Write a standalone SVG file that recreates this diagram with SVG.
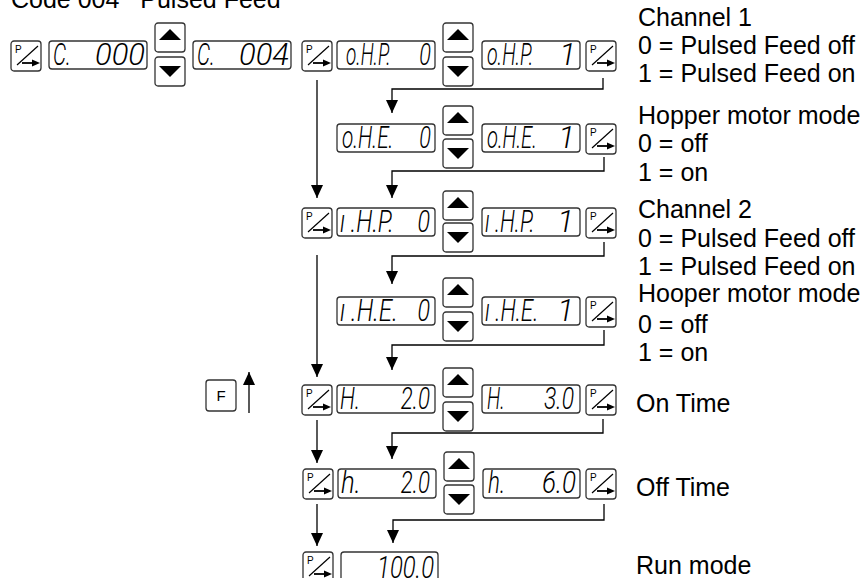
<svg xmlns="http://www.w3.org/2000/svg" width="860" height="578" viewBox="0 0 860 578">
<style>
.box{fill:#fff;stroke:#333;stroke-width:1.3}
.seg{font-family:Roboto,"DejaVu Sans",sans-serif;font-weight:300;font-style:italic;font-size:31px;fill:#000}
.end{text-anchor:end}
.lbl{font-family:"Liberation Sans",Arial,sans-serif;font-size:25px;fill:#000}
.conn{fill:none;stroke:#000;stroke-width:1.3}
</style>
<defs>
<marker id="ah" markerUnits="userSpaceOnUse" markerWidth="13" markerHeight="12" refX="13" refY="6" orient="auto" viewBox="0 0 13 12"><path d="M0,0 L13,6 L0,12 z" fill="#000"/></marker>
<g id="pbtn"><rect class="box" x="0" y="0" width="30" height="30" rx="3"/><text x="4" y="12" font-family="Liberation Sans,sans-serif" font-size="10">P</text><line x1="6" y1="24" x2="27" y2="5" stroke="#000" stroke-width="1.2"/><line x1="11" y1="22" x2="23" y2="22" stroke="#000" stroke-width="1.8"/><path d="M21,18.5 L29,22 L21,25.5 z"/></g>
<g id="upbtn"><rect class="box" x="0" y="0" width="30" height="29" rx="3"/><path d="M4,17 L26,17 L15,6 z"/></g>
<g id="dnbtn"><rect class="box" x="0" y="0" width="30" height="29" rx="3"/><path d="M4,9 L26,9 L15,20 z"/></g>
</defs>

<text class="lbl" x="11" y="8" xml:space="preserve">Code 004   Pulsed Feed</text>

<g id="connectors">
<path class="conn" d="M317,80 V198" marker-end="url(#ah)"/>
<path class="conn" d="M317,255 V377" marker-end="url(#ah)"/>
<path class="conn" d="M317,420 V463" marker-end="url(#ah)"/>
<path class="conn" d="M317,504 V546" marker-end="url(#ah)"/>
<path class="conn" d="M603,78 V89 H392 V113" marker-end="url(#ah)"/>
<path class="conn" d="M604,157 V171 H392 V198" marker-end="url(#ah)"/>
<path class="conn" d="M604,242 V256 H392 V284" marker-end="url(#ah)"/>
<path class="conn" d="M604,330 V345 H392 V370" marker-end="url(#ah)"/>
<path class="conn" d="M603,419 V433 H392 V459" marker-end="url(#ah)"/>
<path class="conn" d="M604,504 V520 H393 V543" marker-end="url(#ah)"/>
<path class="conn" d="M249,413 V372" marker-end="url(#ah)"/>
</g>

<g id="row1">
<use href="#pbtn" x="11" y="41"/>
<g id="disp-c000"><rect class="box" x="49" y="41" width="98" height="28" rx="3"/><text class="seg" transform="translate(53,65) scale(0.67,1)">C.</text><text class="seg end" x="145" y="65">000</text></g>
<use href="#upbtn" x="155" y="23"/><use href="#dnbtn" x="155" y="57"/>
<g id="disp-c004"><rect class="box" x="193" y="41" width="98" height="28" rx="3"/><text class="seg" transform="translate(197,65) scale(0.67,1)">C.</text><text class="seg end" x="289" y="65">004</text></g>
<use href="#pbtn" x="302" y="41"/>
<g id="disp-ohp0"><rect class="box" x="337" y="41" width="98" height="28" rx="3"/><text class="seg" transform="translate(346,65) scale(0.61,1)">o.H.P.</text><text class="seg end" transform="translate(431,65) scale(0.7,1)">0</text></g>
<use href="#upbtn" x="443" y="23"/><use href="#dnbtn" x="443" y="57"/>
<g id="disp-ohp1"><rect class="box" x="482" y="41" width="98" height="28" rx="3"/><text class="seg" transform="translate(487,65) scale(0.63,1)">o.H.P.</text><text class="seg end" x="576" y="65">1</text></g>
<use href="#pbtn" x="586" y="41"/>
</g>

<g id="row2">
<g id="disp-ohe0"><rect class="box" x="337" y="124" width="98" height="28" rx="3"/><text class="seg" transform="translate(342,148) scale(0.67,1)">o.H.E.</text><text class="seg end" transform="translate(431,148) scale(0.7,1)">0</text></g>
<use href="#upbtn" x="443" y="106"/><use href="#dnbtn" x="443" y="139"/>
<g id="disp-ohe1"><rect class="box" x="482" y="124" width="98" height="28" rx="3"/><text class="seg" transform="translate(487,148) scale(0.65,1)">o.H.E.</text><text class="seg end" x="575" y="148">1</text></g>
<use href="#pbtn" x="586" y="124"/>
</g>

<g id="row3">
<use href="#pbtn" x="302" y="208"/>
<g id="disp-ihp0"><rect class="box" x="337" y="208" width="98" height="28" rx="3"/><text class="seg" transform="translate(340,232) scale(0.76,1)" xml:space="preserve">ı .H.P.</text><text class="seg end" transform="translate(430,232) scale(0.75,1)">0</text></g>
<use href="#upbtn" x="443" y="191"/><use href="#dnbtn" x="443" y="223"/>
<g id="disp-ihp1"><rect class="box" x="482" y="208" width="98" height="28" rx="3"/><text class="seg" transform="translate(485,232) scale(0.7,1)" xml:space="preserve">ı .H.P.</text><text class="seg end" x="574" y="232">1</text></g>
<use href="#pbtn" x="586" y="208"/>
</g>

<g id="row4">
<g id="disp-ihe0"><rect class="box" x="337" y="297" width="98" height="28" rx="3"/><text class="seg" transform="translate(340,321) scale(0.78,1)" xml:space="preserve">ı .H.E.</text><text class="seg end" transform="translate(430,321) scale(0.75,1)">0</text></g>
<use href="#upbtn" x="443" y="278"/><use href="#dnbtn" x="443" y="312"/>
<g id="disp-ihe1"><rect class="box" x="482" y="297" width="98" height="28" rx="3"/><text class="seg" transform="translate(485,321) scale(0.72,1)" xml:space="preserve">ı .H.E.</text><text class="seg end" x="574" y="321">1</text></g>
<use href="#pbtn" x="586" y="297"/>
</g>

<g id="fbtn"><rect class="box" x="206" y="380" width="30" height="31" rx="3"/><text x="221" y="401" text-anchor="middle" font-family="Liberation Sans,sans-serif" font-size="15">F</text></g>

<g id="row5">
<use href="#pbtn" x="302" y="385"/>
<g id="disp-h20"><rect class="box" x="337" y="385" width="98" height="28" rx="3"/><text class="seg" transform="translate(340,409) scale(0.7,1)">H.</text><text class="seg end" transform="translate(430,409) scale(0.72,1)">2.0</text></g>
<use href="#upbtn" x="443" y="368"/><use href="#dnbtn" x="443" y="402"/>
<g id="disp-h30"><rect class="box" x="482" y="385" width="98" height="28" rx="3"/><text class="seg" transform="translate(487,409) scale(0.62,1)">H.</text><text class="seg end" transform="translate(574,409) scale(0.74,1)">3.0</text></g>
<use href="#pbtn" x="586" y="385"/>
</g>

<g id="row6">
<use href="#pbtn" x="303" y="469"/>
<g id="disp-lh20"><rect class="box" x="338" y="469" width="98" height="29" rx="3"/><text class="seg" transform="translate(341,493) scale(0.83,1)">h.</text><text class="seg end" transform="translate(430,493) scale(0.72,1)">2.0</text></g>
<use href="#upbtn" x="444" y="452"/><use href="#dnbtn" x="444" y="485"/>
<g id="disp-lh60"><rect class="box" x="483" y="469" width="97" height="29" rx="3"/><text class="seg" transform="translate(488,493) scale(0.72,1)">h.</text><text class="seg end" transform="translate(576,493) scale(0.84,1)">6.0</text></g>
<use href="#pbtn" x="586" y="469"/>
</g>

<g id="row7">
<use href="#pbtn" x="303" y="552"/>
<g id="disp-run"><rect class="box" x="341" y="552" width="97" height="30" rx="3"/><text class="seg end" transform="translate(434,578) scale(0.77,1)">100.0</text></g>
</g>

<g id="labels">
<text class="lbl" x="638" y="26">Channel 1</text>
<text class="lbl" x="638" y="54">0 = Pulsed Feed off</text>
<text class="lbl" x="638" y="82">1 = Pulsed Feed on</text>
<text class="lbl" x="638" y="124">Hopper motor mode</text>
<text class="lbl" x="638" y="152">0 = off</text>
<text class="lbl" x="638" y="181">1 = on</text>
<text class="lbl" x="638" y="218">Channel 2</text>
<text class="lbl" x="638" y="247">0 = Pulsed Feed off</text>
<text class="lbl" x="638" y="275">1 = Pulsed Feed on</text>
<text class="lbl" x="638" y="302">Hooper motor mode</text>
<text class="lbl" x="638" y="333">0 = off</text>
<text class="lbl" x="638" y="361">1 = on</text>
<text class="lbl" x="636" y="412">On Time</text>
<text class="lbl" x="636" y="496">Off Time</text>
<text class="lbl" x="636" y="574">Run mode</text>
</g>
</svg>
